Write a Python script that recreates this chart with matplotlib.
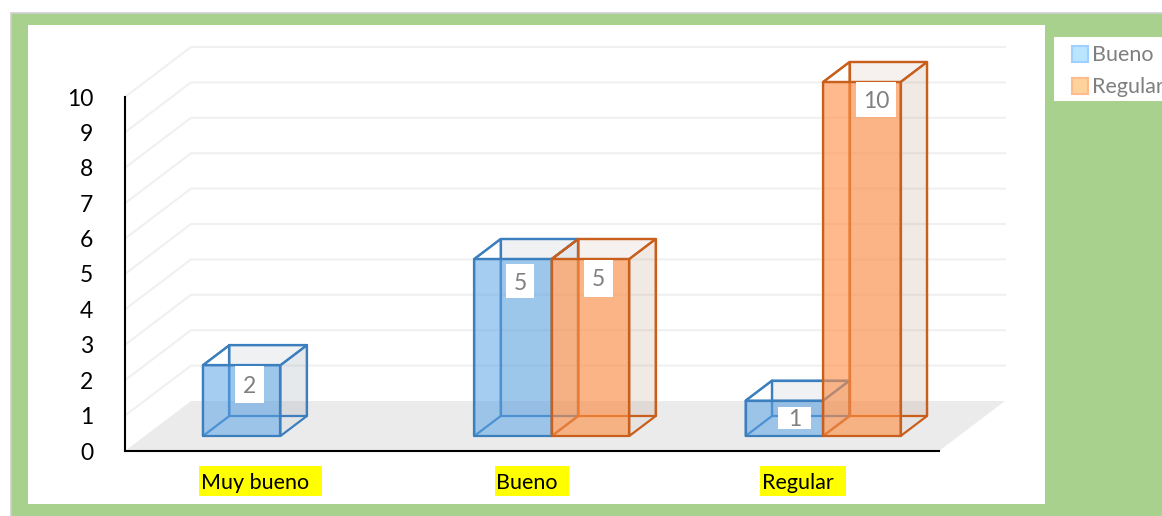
import matplotlib
matplotlib.use("Agg")
import matplotlib.pyplot as plt
from matplotlib.patches import Polygon, Rectangle, Patch

# Datos
categories = ["Muy bueno  ", "Bueno  ", "Regular  "]
bueno_values = [2, 5, 1]
regular_values = [0, 5, 10]
y_ticks = list(range(0, 11))

W, H = 1162, 516
AX_L, AX_R, AX_T, AX_B = 125, 939, 97, 451
PX_X = (AX_R - AX_L) / 3     # px por categoria
PX_Y = (AX_B - AX_T) / 10    # px por unidad
BAR_W = 77.5 / PX_X
DEPTH_X = 66 / PX_X     # desplazamiento oblicuo de todo el suelo
DEPTH_Y = 50 / PX_Y
D0, D1 = 0.3, 0.7       # la barra ocupa de 0.3 a 0.7 de la profundidad

plt.rcParams["font.family"] = ["Lato", "DejaVu Sans"]

fig = plt.figure(figsize=(W / 100, H / 100), dpi=100, facecolor="white")


def px_rect(x0, y0, x1, y1, z=-1, **kw):
    fig.add_artist(Rectangle((x0 / W, 1 - y1 / H), (x1 - x0) / W, (y1 - y0) / H,
                             transform=fig.transFigure, zorder=z, **kw))


# Fondo verde con panel blanco
px_rect(11, 13, W + 5, H + 5, facecolor="#a9d18e", edgecolor="#cfcfcf", linewidth=1.2)
px_rect(28, 25, 1045, 504, z=-0.9, facecolor="white", edgecolor="none")
# Resaltado amarillo de las categorias
px_rect(199, 466, 322, 496, z=-0.8, facecolor="#ffff00", edgecolor="none")
px_rect(495, 466, 569, 496, z=-0.8, facecolor="#ffff00", edgecolor="none")
px_rect(760, 466, 846, 496, z=-0.8, facecolor="#ffff00", edgecolor="none")

ax = fig.add_axes([AX_L / W, 1 - AX_B / H, (AX_R - AX_L) / W, (AX_B - AX_T) / H])
ax.patch.set_alpha(0)
ax.set_xlim(-0.5, 2.5)
ax.set_ylim(0, 10)


def proj(x, y, d):
    return (x + d * DEPTH_X, y + d * DEPTH_Y)


def face(points, color, alpha, z):
    ax.add_patch(Polygon(points, closed=True, facecolor=color, alpha=alpha,
                         edgecolor="none", clip_on=False, zorder=z))


def edges(points, color, z):
    ax.add_patch(Polygon(points, closed=True, fill=False, edgecolor=color,
                         linewidth=1.6, joinstyle="round", clip_on=False, zorder=z))


# Suelo y rejilla
x0, x1 = ax.get_xlim()
face([proj(x0, 0, 0), proj(x1, 0, 0), proj(x1, 0, 1), proj(x0, 0, 1)], "#ebebeb", 1, 1)
for v in y_ticks[1:]:
    xs, ys = zip(proj(x0, v, 0), proj(x0, v, 1), proj(x1, v, 1))
    ax.plot(xs, ys, color="#f0f0f0", lw=1.5, clip_on=False, zorder=1, solid_joinstyle="miter")


def draw_bar(xl, value, fill, edge, fill_alpha, z):
    xr = xl + BAR_W
    fl, fr, ft, ftr = proj(xl, 0, D0), proj(xr, 0, D0), proj(xl, value, D0), proj(xr, value, D0)
    bl, br, bt, btr = proj(xl, 0, D1), proj(xr, 0, D1), proj(xl, value, D1), proj(xr, value, D1)
    # caras traseras, muy transparentes
    face([bl, br, btr, bt], "#8a9aa8" if edge == EDGE_B else "#c09a80", 0.13, z)
    face([fr, br, btr, ftr], "#7d8a96" if edge == EDGE_B else "#a88a6c", 0.07, z)
    edges([bl, br, btr, bt], edge, z + 0.1)
    edges([fl, bl, bt, ft], edge, z + 0.1)
    # cara frontal
    face([fl, fr, ftr, ft], fill, fill_alpha, z + 0.2)
    edges([fl, fr, ftr, ft], edge, z + 0.3)
    edges([fr, br, btr, ftr], edge, z + 0.3)
    edges([ft, ftr, btr, bt], edge, z + 0.3)


EDGE_B, EDGE_O = "#3c7fbe", "#c85f1c"
for i in range(len(categories)):
    if bueno_values[i] > 0:
        draw_bar(i - BAR_W, bueno_values[i], "#5ba3e6", EDGE_B, 0.55, 3)
for i in range(len(categories)):
    if regular_values[i] > 0:
        draw_bar(i, regular_values[i], "#ff8f45", EDGE_O, 0.62, 4)

# Etiquetas de valor: desplazamiento en px desde el centro del borde superior y caja en px
bueno_label_style = [(8, -19, 29, 37), (7, -22, 28, 34), (10, -17, 33, 22)]
regular_label_style = [None, (8, -19, 29, 37), (14, -17, 40, 35)]


def value_label(x, v, style):
    dx, dy, bw, bh = style
    fx, fy = proj(x, v, D0)
    cx, cy = fx + dx / PX_X, fy + dy / PX_Y
    ax.add_patch(Rectangle((cx - bw / 2 / PX_X, cy - bh / 2 / PX_Y), bw / PX_X, bh / PX_Y,
                           facecolor="white", edgecolor="none", clip_on=False, zorder=9))
    ax.text(cx, cy, str(v), ha="center", va="center_baseline", fontsize=16.5,
            color="#808080", zorder=10, clip_on=False)


for i in range(len(categories)):
    if bueno_values[i] > 0:
        value_label(i - BAR_W / 2, bueno_values[i], bueno_label_style[i])
    if regular_values[i] > 0:
        value_label(i + BAR_W / 2, regular_values[i], regular_label_style[i])

# Ejes
for s in ("top", "right"):
    ax.spines[s].set_visible(False)
for s in ("left", "bottom"):
    ax.spines[s].set_linewidth(1.5)
    ax.spines[s].set_color("black")
    ax.spines[s].set_zorder(6)
ax.set_yticks(y_ticks)
ax.set_xticks(range(len(categories)))
ax.set_xticklabels(categories)
ax.tick_params(axis="y", length=0, pad=23, labelsize=16.5)
ax.tick_params(axis="x", length=0, pad=15.5, labelsize=15.5)

# Leyenda (cortada por el borde derecho, como en la original)
handles = [Patch(facecolor="#b9e5ff", edgecolor="#9fd0ff", linewidth=1.5, label="Bueno"),
           Patch(facecolor="#ffd39b", edgecolor="#ffbb8c", linewidth=1.5, label="Regular")]
px_rect(1054, 37, W + 5, 101, z=-0.9, facecolor="white", edgecolor="none")
fig.legend(handles=handles, loc="upper left", bbox_to_anchor=(1068 / W, 1 - 41 / H),
           frameon=False, fontsize=15.5, labelcolor="#7f7f7f", handlelength=0.75,
           handleheight=0.75, handletextpad=0.18, labelspacing=0.55,
           borderpad=0.2, borderaxespad=0)

fig.savefig("out.png", dpi=100)
